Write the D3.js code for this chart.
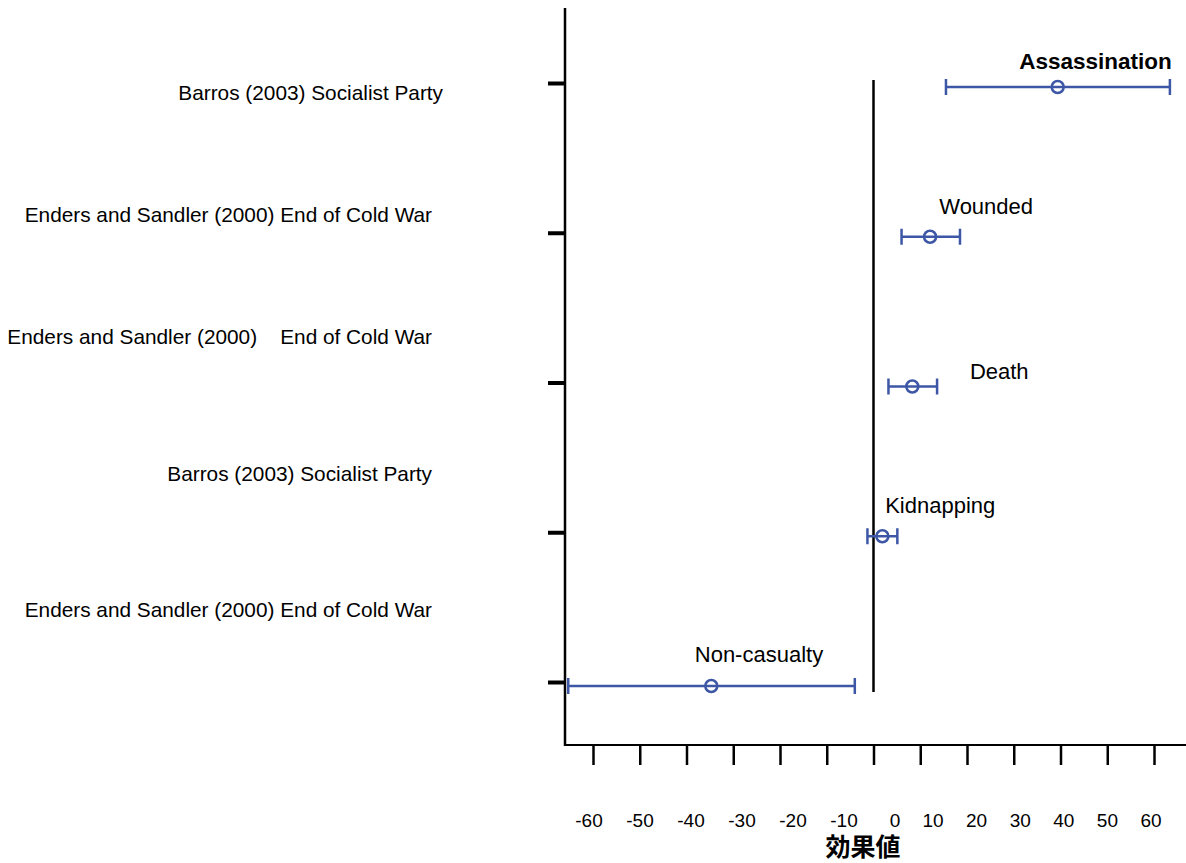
<!DOCTYPE html>
<html>
<head>
<meta charset="utf-8">
<script src="https://cdn.jsdelivr.net/npm/d3@7/dist/d3.min.js"></script>
<style>
  body { margin: 0; background: #fff; }
  svg { display: block; font-family: Arial, "Liberation Sans", sans-serif; }
</style>
</head>
<body>
<div class="chart"></div>
<script>
// rows, top to bottom
var studies = ["Barros (2003) Socialist Party",
               "Enders and Sandler (2000) End of Cold War",
               "Enders and Sandler (2000)    End of Cold War",
               "Barros (2003) Socialist Party",
               "Enders and Sandler (2000) End of Cold War"];
var outcomes = ["Assassination", "Wounded", "Death", "Kidnapping", "Non-casualty"];
var effect = [39.4, 12.1, 8.3, 1.9, -34.7];
var lower  = [15.5, 6.0, 3.2, -1.3, -65.3];
var upper  = [63.4, 18.5, 13.6, 5.1, -4.0];
var xTicks = [-60, -50, -40, -30, -20, -10, 0, 10, 20, 30, 40, 50, 60];
var xTitle = "効果値";

var W = 1186, H = 863, blue = "#3d57a6";

var svg = d3.select('.chart').append('svg')
  .attr('width', W).attr('height', H);

var x = d3.scaleLinear().domain([-60, 60]).range([593, 1154])
  , y = d3.scalePoint().domain(d3.range(studies.length)).range([83, 682])
  // the tick labels sit a bit off the tick marks in the original
  , xLab = d3.scaleLinear().domain([-60, 0, 10, 60]).range([589, 895, 933, 1151])
  , yLab = d3.scaleLinear().domain([0, 2, 4]).range([100, 344, 617]);

// axis lines
svg.append('line').attr('x1', 565).attr('x2', 565).attr('y1', 8).attr('y2', 746)
  .attr('stroke', '#000').attr('stroke-width', 2.5);
svg.append('line').attr('x1', 564).attr('x2', W).attr('y1', 745).attr('y2', 745)
  .attr('stroke', '#000').attr('stroke-width', 2);

// x ticks (labels drawn separately)
var gx = svg.append('g').attr('transform', 'translate(0,746)')
  .call(d3.axisBottom(x).tickValues(xTicks).tickSize(19).tickFormat(''));
gx.select('.domain').remove();
gx.selectAll('.tick line').attr('stroke', '#000').attr('stroke-width', 2.5);

svg.selectAll('.xlab').data(xTicks).enter().append('text')
  .attr('class', 'xlab')
  .attr('x', d => xLab(d)).attr('y', 827)
  .attr('text-anchor', 'middle')
  .attr('font-size', 19)
  .text(d => d);

svg.append('text').attr('x', 863).attr('y', 856)
  .attr('text-anchor', 'middle')
  .attr('font-size', 25).attr('font-weight', 'bold')
  .attr('font-family', '"Noto Sans CJK JP", sans-serif')
  .text(xTitle);

// y ticks
var gy = svg.append('g').attr('transform', 'translate(566,0)')
  .call(d3.axisLeft(y).tickSize(18).tickFormat(''));
gy.select('.domain').remove();
gy.selectAll('.tick line').attr('stroke', '#000').attr('stroke-width', 4);

svg.selectAll('.ylab').data(studies).enter().append('text')
  .attr('class', 'ylab')
  .attr('x', (d, i) => i === 0 ? 443 : 432)
  .attr('y', (d, i) => yLab(i))
  .attr('text-anchor', 'end')
  .attr('font-size', 20.8)
  .text(d => d.replace(/ /g, '\u00a0'));

// zero line
svg.append('line').attr('x1', x(0)).attr('x2', x(0)).attr('y1', 80).attr('y2', 692)
  .attr('stroke', '#000').attr('stroke-width', 2.5);

// error bars
var rows = svg.selectAll('.row').data(effect).enter().append('g')
  .attr('class', 'row')
  .attr('transform', (d, i) => `translate(0,${y(i) + 4})`)
  .attr('stroke', blue).attr('stroke-width', 2.5).attr('fill', 'none');

rows.append('line').attr('x1', (d, i) => x(lower[i])).attr('x2', (d, i) => x(upper[i]));
rows.append('line').attr('x1', (d, i) => x(lower[i])).attr('x2', (d, i) => x(lower[i]))
  .attr('y1', -8).attr('y2', 8);
rows.append('line').attr('x1', (d, i) => x(upper[i])).attr('x2', (d, i) => x(upper[i]))
  .attr('y1', -8).attr('y2', 8);
rows.append('circle').attr('cx', d => x(d)).attr('r', 6);

// outcome labels: [anchor, position in effect units, baseline offset from row]
var labelPos = [["end", 63.8, -14], ["middle", 24.1, -19], ["middle", 26.9, -4],
                ["start", 2.5, -19], ["middle", -24.5, -20]];
svg.selectAll('.olab').data(outcomes).enter().append('text')
  .attr('class', 'olab')
  .attr('x', (d, i) => x(labelPos[i][1]))
  .attr('y', (d, i) => y(i) + labelPos[i][2])
  .attr('text-anchor', (d, i) => labelPos[i][0])
  .attr('font-size', (d, i) => i === 0 ? 22.5 : 22)
  .attr('font-weight', (d, i) => i === 0 ? 'bold' : 'normal')
  .text(d => d);
</script>
</body>
</html>
